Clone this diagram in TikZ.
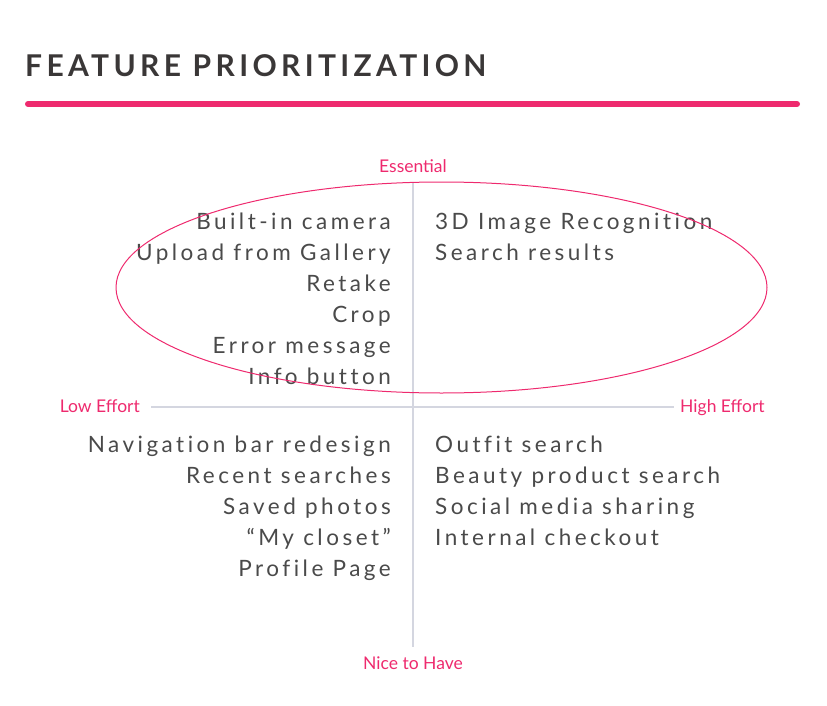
\documentclass[tikz,border=0pt]{standalone}
\usepackage{fontspec}
\setmainfont{Lato}
\newfontfamily\featfont[LetterSpace=15.5,Ligatures=NoCommon]{Lato}
\newfontfamily\titlefont[LetterSpace=14.5]{Lato}
\usepackage{tikz}
\usepackage{xcolor}

\definecolor{hotpink}{HTML}{EE2A6E}
\definecolor{inkgray}{HTML}{4A4A4A}
\definecolor{titlegray}{HTML}{3A3737}
\definecolor{axisgray}{HTML}{D4D6E0}

\tikzset{
  feat/.style={text=inkgray, font=\featfont\fontsize{22.5}{26}\selectfont, inner sep=0pt},
  axlabel/.style={text=hotpink, font=\fontsize{17.5}{20}\selectfont, inner sep=0pt},
  axline/.style={axisgray, line width=2pt}
}

\begin{document}
\begin{tikzpicture}[x=1pt,y=-1pt]
  \useasboundingbox (0,0) rectangle (827,706);

  % heading
  \node[anchor=base west, inner sep=0pt, text=titlegray, font=\titlefont\bfseries\fontsize{30}{34}\selectfont] (title) at (25,77) {FEATURE PRIORITIZATION};
  \draw[hotpink, line width=6pt, line cap=round] (28,104) -- (797,104);

  % axis labels
  \node[axlabel, anchor=base] (ess) at (413,172) {Essential};
  \node[axlabel, anchor=base] (nice) at (413,669) {Nice to Have};
  \node[axlabel, anchor=base east] (low) at (140,412) {Low Effort};
  \node[axlabel, anchor=base west] (high) at (680,412) {High Effort};

  \coordinate (top) at (413,183);
  \coordinate (bot) at (413,647);
  \coordinate (lft) at (151,407);
  \coordinate (rgt) at (674,407);

  \draw[axline] (top) -- (bot);
  \draw[axline] (lft) -- (rgt);

  % essential, low effort
  \node[feat, anchor=base east] (cam) at (391,229) {Built-in camera};
  \node[feat, anchor=base east] (upl) at (391,260) {Upload from Gallery};
  \node[feat, anchor=base east] (ret) at (391,291) {Retake};
  \node[feat, anchor=base east] (crop) at (391,322) {Crop};
  \node[feat, anchor=base east] (err) at (391,353) {Error message};
  \node[feat, anchor=base east] (info) at (391,384) {Info button};

  % essential, high effort
  \node[feat, anchor=base west] (rec) at (435,229) {3D Image Recognition};
  \node[feat, anchor=base west] (res) at (435,260) {Search results};

  % nice to have, low effort
  \node[feat, anchor=base east] (nav) at (391,452) {Navigation bar redesign};
  \node[feat, anchor=base east] (recent) at (391,483) {Recent searches};
  \node[feat, anchor=base east] (saved) at (391,514) {Saved photos};
  \node[feat, anchor=base east] (closet) at (391,545) {“My closet”};
  \node[feat, anchor=base east] (prof) at (391,576) {Profile Page};

  % nice to have, high effort
  \node[feat, anchor=base west] (outfit) at (435,452) {Outfit search};
  \node[feat, anchor=base west] (beauty) at (435,483) {Beauty product search};
  \node[feat, anchor=base west] (social) at (435,514) {Social media sharing};
  \node[feat, anchor=base west] (check) at (435,545) {Internal checkout};

  % the essential ring
  \draw[hotpink, line width=1pt] (441.5,287.5) ellipse [x radius=325.5pt, y radius=105.5pt];

\end{tikzpicture}
\end{document}
